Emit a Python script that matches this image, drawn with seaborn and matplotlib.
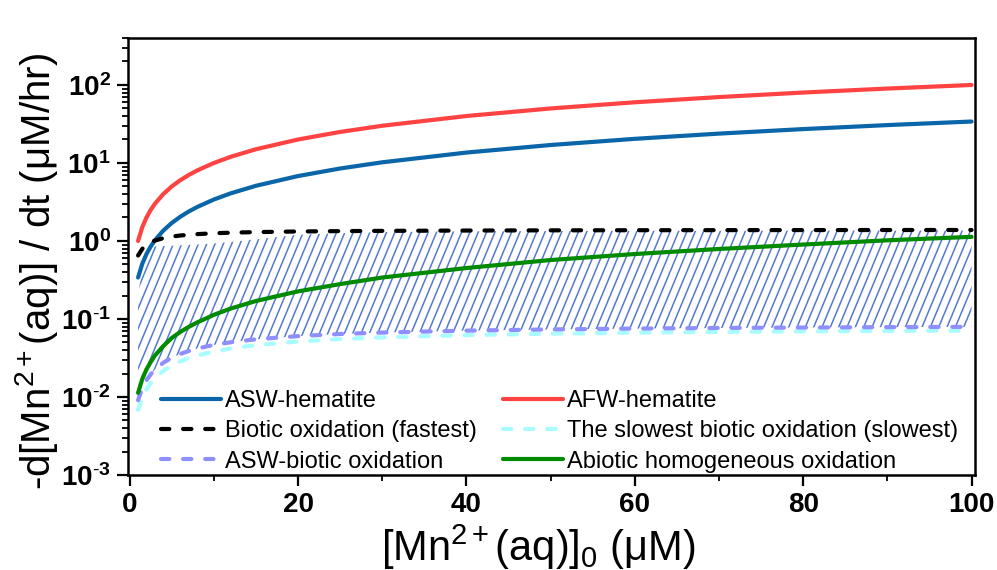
import numpy as np
import pandas as pd
import matplotlib
matplotlib.use("Agg")
import matplotlib.pyplot as plt
import matplotlib.hatch as mhatch
from matplotlib.path import Path
from matplotlib.ticker import FixedLocator, FuncFormatter, LogLocator, NullFormatter, MultipleLocator
import seaborn as sns

# ---------------- data ----------------
mn0 = [1, 1.5, 2, 2.5, 3, 4, 5, 6, 7, 8, 10, 12, 15, 20, 25, 30, 40, 50, 60, 70, 80, 90, 100]

asw_hematite = [0.34, 0.51, 0.68, 0.85, 1.02, 1.36, 1.7, 2.04, 2.38, 2.72, 3.4, 4.08, 5.1,
                6.8, 8.5, 10.2, 13.6, 17, 20.4, 23.8, 27.2, 30.6, 34]
afw_hematite = [1, 1.5, 2, 2.5, 3, 4, 5, 6, 7, 8, 10, 12, 15, 20, 25, 30, 40, 50, 60, 70,
                80, 90, 100]
biotic_fastest = [0.651, 0.792, 0.889, 0.959, 1.012, 1.087, 1.138, 1.175, 1.202, 1.224,
                  1.256, 1.278, 1.300, 1.324, 1.338, 1.348, 1.361, 1.369, 1.374, 1.377,
                  1.380, 1.382, 1.384]
biotic_slowest = [0.00683, 0.00981, 0.01256, 0.0151, 0.01744, 0.02166, 0.02532, 0.02855,
                  0.0314, 0.03395, 0.03829, 0.04187, 0.04618, 0.05148, 0.05528, 0.05815,
                  0.06218, 0.06488, 0.06681, 0.06826, 0.06939, 0.07029, 0.07104]
asw_biotic = [0.0091, 0.0129, 0.0164, 0.0195, 0.0224, 0.0275, 0.0319, 0.0356, 0.0388,
              0.0417, 0.0465, 0.0503, 0.0549, 0.0603, 0.0642, 0.0670, 0.0709, 0.0735,
              0.0753, 0.0767, 0.0777, 0.0786, 0.0793]
abiotic_homog = [0.0113, 0.017, 0.0226, 0.028, 0.034, 0.045, 0.057, 0.068, 0.079, 0.09,
                 0.113, 0.136, 0.17, 0.226, 0.28, 0.34, 0.45, 0.57, 0.68, 0.79, 0.9,
                 1.02, 1.13]
# upper edge of the hatched band
band_top = [0.2, 0.45, 0.65, 0.8, 0.85, 0.86, 0.87, 0.88, 0.89, 0.9, 0.93, 0.97, 1.05,
            1.2, 1.26, 1.3, 1.33, 1.34, 1.35, 1.35, 1.36, 1.36, 1.36]

series_labels = ["ASW-hematite", "AFW-hematite", "Biotic oxidation (fastest)",
                 "The slowest biotic oxidation (slowest)", "ASW-biotic oxidation",
                 "Abiotic homogeneous oxidation"]
y_ticks = [1e-3, 1e-2, 1e-1, 1e0, 1e1, 1e2]
x_ticks = [0, 20, 40, 60, 80, 100]


# ---------------- steeper '/' hatch (style only) ----------------
class SteepHatch(mhatch.HatchPatternBase):
    SHIFT_STEPS = 5  # x shift over one tile height, in line spacings

    def __init__(self, hatch, density):
        self.num_lines = int((hatch.count('/') + hatch.count('x') + hatch.count('X')) * density)
        if self.num_lines:
            self.num_vertices = (self.num_lines + self.SHIFT_STEPS + 1) * 2
        else:
            self.num_vertices = 0

    def set_vertices_and_codes(self, vertices, codes):
        n = self.num_lines
        shift = self.SHIFT_STEPS / n
        starts = np.arange(-self.SHIFT_STEPS, n + 1) / n
        vertices[0::2, 0] = starts
        vertices[0::2, 1] = 0.0
        vertices[1::2, 0] = starts + shift
        vertices[1::2, 1] = 1.0
        codes[0::2] = Path.MOVETO
        codes[1::2] = Path.LINETO


mhatch._hatch_types[:] = [SteepHatch if h is mhatch.NorthEastHatch else h
                          for h in mhatch._hatch_types]

# ---------------- style ----------------
sns.set_theme(style="ticks")
plt.rcParams["font.family"] = ["Liberation Sans", "DejaVu Sans"]
plt.rcParams["mathtext.fontset"] = "custom"
plt.rcParams["mathtext.rm"] = "Liberation Sans"
plt.rcParams["mathtext.it"] = "Liberation Sans:italic"
plt.rcParams["mathtext.bf"] = "Liberation Sans:bold"
plt.rcParams["mathtext.default"] = "regular"
plt.rcParams["hatch.linewidth"] = 1.1
plt.rcParams["hatch.color"] = "#5578d2"
plt.rcParams["text.color"] = "black"
plt.rcParams["axes.labelcolor"] = "black"
plt.rcParams["xtick.color"] = "black"
plt.rcParams["ytick.color"] = "black"
plt.rcParams["legend.labelcolor"] = "black"

fig = plt.figure(figsize=(9.97, 5.70), dpi=100)
ax = fig.add_axes([0.128, 0.1667, 0.8495, 0.7666])

# hatched band
ax.fill_between(mn0, asw_biotic, band_top, facecolor="none", edgecolor="#5578d2",
                hatch="//", linewidth=0, zorder=1)

lw = 3.0
specs = [
    (asw_hematite, series_labels[0], "#0a66a8", None),
    (afw_hematite, series_labels[1], "#ff4242", None),
    (biotic_fastest, series_labels[2], "black", (2.0, 3.3)),
    (biotic_slowest, series_labels[3], "#a8fcff", (2.0, 3.3)),
    (asw_biotic, series_labels[4], "#8f8fff", (2.0, 3.3)),
    (abiotic_homog, series_labels[5], "#008a00", None),
]
for ys, lab, col, dash in specs:
    df = pd.DataFrame({"x": mn0, "y": ys})
    sns.lineplot(data=df, x="x", y="y", ax=ax, color=col, linewidth=lw,
                 zorder=3, legend=False)
    line = ax.lines[-1]
    line.set_label(lab)
    line.set_solid_capstyle("round")
    if dash is not None:
        line.set_dashes(dash)
        line.set_dash_capstyle("round")

for ln in ax.lines:
    if ln.get_label() == series_labels[5]:
        ln.set_zorder(4)

ax.set_yscale("log")
ax.set_ylim(1e-3, 400)
ax.set_xlim(-0.24, 100.36)


def log_label(v, p):
    e = int(round(np.log10(v)))
    if e < 0:
        return r"$\mathbf{10^{\text{-}%d}}$" % (-e)
    return r"$\mathbf{10^{%d}}$" % e


ax.yaxis.set_major_locator(FixedLocator(y_ticks))
ax.yaxis.set_minor_locator(LogLocator(base=10, subs=np.arange(2, 10), numticks=20))
ax.yaxis.set_minor_formatter(NullFormatter())
ax.yaxis.set_major_formatter(FuncFormatter(log_label))
ax.xaxis.set_major_locator(FixedLocator(x_ticks))
ax.xaxis.set_minor_locator(MultipleLocator(10))

ax.tick_params(axis="both", which="major", direction="out", length=8, width=1.6,
               labelsize=20, colors="black", pad=4)
ax.tick_params(axis="both", which="minor", direction="out", length=4, width=1.3,
               colors="black")
for t in ax.get_xticklabels():
    t.set_fontweight("bold")

for s in ax.spines.values():
    s.set_linewidth(1.8)
    s.set_color("black")
    s.set_visible(True)

ax.set_xlabel(r"[Mn$^{2+}$(aq)]$_0$ ($\mu$M)", fontsize=30, color="black")
ax.set_ylabel(r"-d[Mn$^{2+}$(aq)] / dt ($\mu$M/hr)", fontsize=29, color="black")
ax.xaxis.set_label_coords(0.485, -0.108)
ax.yaxis.set_label_coords(-0.08, 0.465)

# legend, two columns
handles, labels = ax.get_legend_handles_labels()
hmap = dict(zip(labels, handles))
order = [series_labels[0], series_labels[2], series_labels[4],
         series_labels[1], series_labels[3], series_labels[5]]
ax.legend([hmap[k] for k in order], order, ncol=2, frameon=False, fontsize=17,
          loc="upper left", bbox_to_anchor=(0.039, 0.194), handlelength=2.55,
          handletextpad=0.17, columnspacing=1.1, labelspacing=0.35,
          borderaxespad=0, borderpad=0, labelcolor="black")

fig.savefig("out.png", dpi=100)
